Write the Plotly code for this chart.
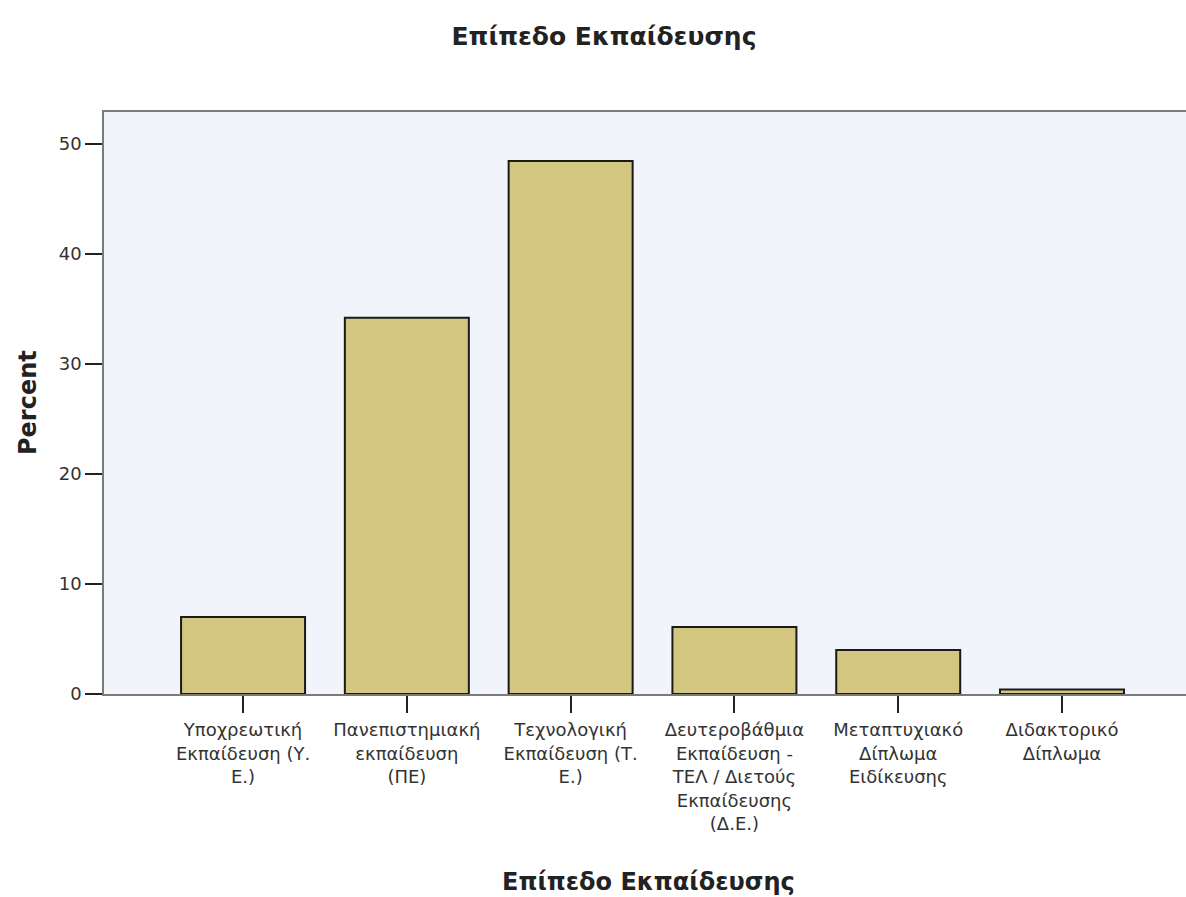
import plotly.graph_objects as go

categories = [
    "Υποχρεωτική<br>Εκπαίδευση (Υ.<br>Ε.)",
    "Πανεπιστημιακή<br>εκπαίδευση<br>(ΠΕ)",
    "Τεχνολογική<br>Εκπαίδευση (Τ.<br>Ε.)",
    "Δευτεροβάθμια<br>Εκπαίδευση -<br>ΤΕΛ / Διετούς<br>Εκπαίδευσης<br>(Δ.Ε.)",
    "Μεταπτυχιακό<br>Δίπλωμα<br>Ειδίκευσης",
    "Διδακτορικό<br>Δίπλωμα",
]
percent = [7.0, 34.2, 48.45, 6.1, 4.0, 0.4]
y_ticks = [0, 10, 20, 30, 40, 50]

FONT = "DejaVu Sans, Liberation Sans, Arial, sans-serif"
W, H = 1186, 897
L, T, B = 104, 112, 897 - 694
PW, PH = W - L, H - T - B

fig = go.Figure()
fig.add_trace(go.Bar(
    x=list(range(len(categories))),
    y=percent,
    width=0.757,
    marker=dict(color="#D3C680", line=dict(color="#1a1a1a", width=2)),
))

fig.update_layout(
    width=W, height=H,
    margin=dict(l=L, r=0, t=T, b=B, pad=0),
    paper_bgcolor="white",
    plot_bgcolor="#F1F4FA",
    showlegend=False,
    font=dict(family=FONT, color="#333333"),
    title=dict(text="<b>Επίπεδο Εκπαίδευσης</b>", x=604 / W, xanchor="center",
               y=1 - 36 / H, yanchor="middle", yref="container",
               font=dict(size=25, color="#222222", family=FONT)),
)
fig.update_xaxes(
    tickmode="array", tickvals=list(range(len(categories))), ticktext=categories,
    range=[-0.849, 5.757],
    showline=True, linecolor="#7a7a7a", linewidth=1.5, mirror=True,
    ticks="outside", ticklen=17, tickwidth=2, tickcolor="#222222",
    tickfont=dict(size=18, color="#333333"),
    ticklabelstandoff=2,
    showgrid=False, zeroline=False,
)
fig.update_yaxes(
    tickmode="array", tickvals=y_ticks,
    range=[0, 52.9],
    showline=True, linecolor="#7a7a7a", linewidth=1.5,
    ticks="outside", ticklen=17, tickwidth=2, tickcolor="#222222",
    tickfont=dict(size=18, color="#333333"),
    showgrid=False, zeroline=False,
)
fig.add_annotation(text="<b>Percent</b>", textangle=-90, xref="paper", yref="paper",
                   x=(28 - L) / PW, y=0.5, xanchor="center", yanchor="middle",
                   showarrow=False, font=dict(size=24, color="#222222", family=FONT))
fig.add_annotation(text="<b>Επίπεδο Εκπαίδευσης</b>", xref="paper", yref="paper",
                   x=(648 - L) / PW, y=-(882 - 694) / PH, xanchor="center", yanchor="middle",
                   showarrow=False, font=dict(size=24, color="#222222", family=FONT))

fig.write_html("out.html", config={"displayModeBar": False},
               post_script="document.body.style.margin='0';")
